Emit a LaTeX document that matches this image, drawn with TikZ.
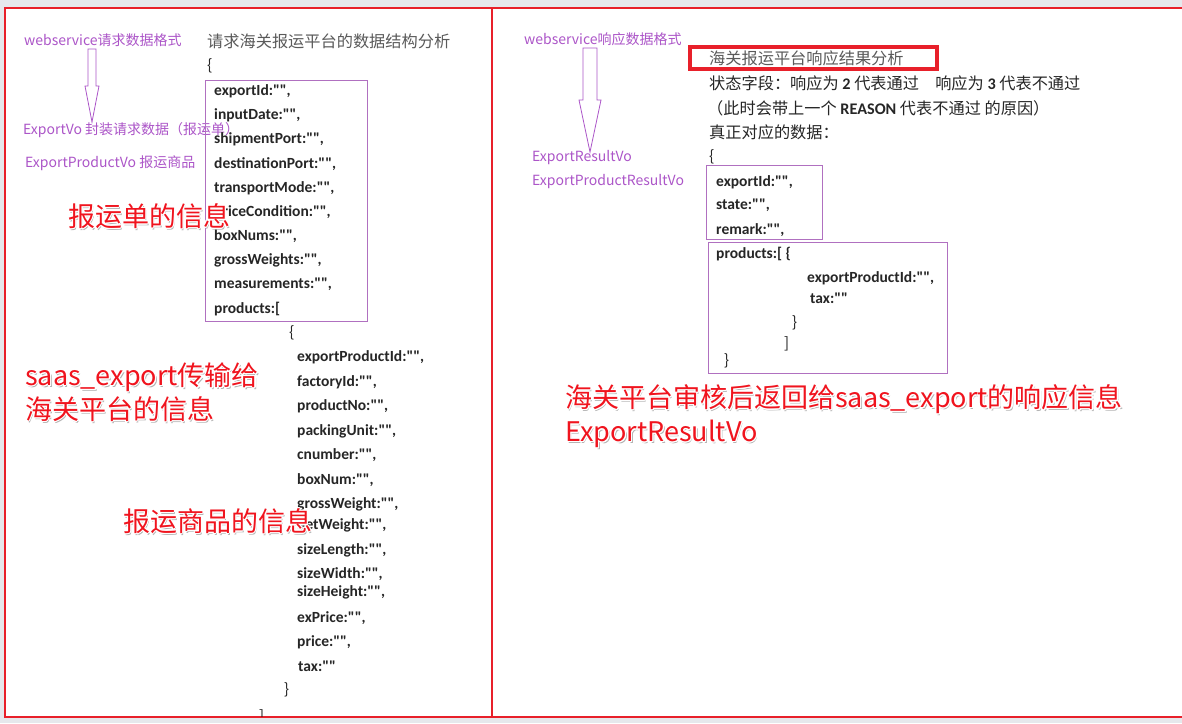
\documentclass[tikz,border=0pt]{standalone}
\usepackage{fontspec}
\setmainfont{Carlito}
\newfontfamily\codefont{Carlito}
\newfontfamily\cjk{Noto Sans CJK SC}
\usepackage{contour}
\contourlength{1.1pt}
\usetikzlibrary{positioning}
\definecolor{cBg}{HTML}{E6E8EC}
\definecolor{cFrame}{HTML}{E8202A}
\definecolor{cPurple}{HTML}{AC55C8}
\definecolor{cBoxP}{HTML}{B070C0}
\definecolor{cGreyT}{HTML}{5A5A5A}
\definecolor{cInk}{HTML}{262626}
\definecolor{cRed}{HTML}{F0141E}
\definecolor{cShade}{HTML}{B4B4B4}
\newcommand\glowtext[1]{\makebox[0pt][l]{\hspace{1.6pt}\raisebox{-1.6pt}{\textcolor{cShade}{#1}}}\contour{white}{#1}}

\begin{document}
\begin{tikzpicture}[x=1pt,y=-1pt,
  lbl/.style={anchor=west,inner sep=0pt,text=cPurple,font=\cjk\fontsize{14}{16}\selectfont},
  code/.style={anchor=west,inner sep=0pt,text=cInk,font=\codefont\bfseries\fontsize{15.5}{18}\selectfont},
  brace/.style={anchor=west,inner sep=0pt,text=cInk,font=\cjk\fontsize{15}{18}\selectfont},
  note/.style={anchor=west,inner sep=0pt,text=cGreyT,font=\cjk\fontsize{16.2}{19}\selectfont},
  call/.style={anchor=west,inner sep=0pt,text=cRed,font=\cjk\fontsize{27}{30}\selectfont},
  pbox/.style={draw=cBoxP,line width=0.8pt},
  blk/.style={draw=cPurple,line width=0.8pt,line join=miter}]

\useasboundingbox (0,0) rectangle (1182,723);
\fill[cBg] (0,0) rectangle (1182,723);
\fill[white] (5,8) rectangle (1182,717);
\draw[cFrame,line width=2pt] (1190,8) -- (5,8) -- (5,717) -- (1190,717);
\draw[cFrame,line width=2pt] (492,8) -- (492,717);

% request side
\node[lbl] (reqfmt) at (24,40) {webservice请求数据格式};
\draw[blk] (88,49) -- (96,49) -- (96,86) -- (99,86) -- (92,122) -- (85,86) -- (88,86) -- cycle;
\node[lbl] (vo) at (23,130) {ExportVo 封装请求数据（报运单）};
\node[lbl] (pvo) at (25,163) {ExportProductVo 报运商品};
\node[note] (reqtitle) at (207,41) {请求海关报运平台的数据结构分析};
\node[brace] (ob1) at (207,66) {\{};

\draw[pbox] (205,80) rectangle (367,321);
\foreach \f [count=\i from 0] in {exportId,inputDate,shipmentPort,destinationPort,
    transportMode,priceCondition,boxNums,grossWeights,measurements}
  \node[code] (ex\i) at (214,{91+24.2*\i}) {\f:"",};
\node[code] (exprod) at (214,309) {products:[};

\node[brace] (ob2) at (289,333) {\{};
\foreach \f/\y [count=\i] in {exportProductId/357,factoryId/382,productNo/406,packingUnit/431,
    cnumber/455,boxNum/480,grossWeight/504,netWeight/525,sizeLength/550,sizeWidth/574,
    sizeHeight/592,exPrice/618,price/642}
  \node[code] (pr\i) at (297,\y) {\f:"",};
\node[code] (prtax) at (298,666) {tax:""};
\node[brace] (cb2) at (284,690) {\}};
\begin{scope}
  \clip (5,8) rectangle (491,716);
  \node[brace,anchor=north west] (cb1) at (259,709) {]};
\end{scope}

\node[call] (c1) at (68,217) {\glowtext{报运单的信息}};
\node[call] (c2) at (25,378) {\glowtext{saas\_export传输给}};
\node[call] (c3) at (25,410) {\glowtext{海关平台的信息}};
\node[call] (c4) at (123,522) {\glowtext{报运商品的信息}};

% response side
\node[lbl] (respfmt) at (524,39) {webservice响应数据格式};
\draw[blk] (583,48) -- (597,48) -- (597,100) -- (601,100) -- (590,152) -- (579,100) -- (583,100) -- cycle;
\node[lbl] (rvo) at (532,158) {ExportResultVo};
\node[lbl] (rpvo) at (532,182) {ExportProductResultVo};

\draw[cFrame,line width=3.5pt] (690,47) rectangle (937,69);
\node[note] (resptitle) at (709,58) {海关报运平台响应结果分析};
\node[note,text=cInk] (state) at (709,83)
  {状态字段：响应为 {\codefont\bfseries 2} 代表通过　响应为 {\codefont\bfseries 3} 代表不通过};
\node[note,text=cInk] (reason) at (707,108)
  {（此时会带上一个 {\codefont\bfseries REASON} 代表不通过 的原因）};
\node[note,text=cInk] (real) at (709,132) {真正对应的数据：};
\node[brace] (ob3) at (709,157) {\{};

\draw[pbox] (706,165) rectangle (822,239);
\foreach \f/\y in {exportId/182,state/205,remark/230}
  \node[code] (r\f) at (716,\y) {\f:"",};
\draw[pbox] (708,242) rectangle (947,373);
\node[code] (rprod) at (716,254) {products:[ \{};
\node[code] (rpid) at (807,278) {exportProductId:"",};
\node[code] (rtax) at (810,298) {tax:""};
\node[brace] (rcb1) at (792,323) {\}};
\node[brace] (rcb2) at (784,344) {]};
\node[brace] (rcb3) at (724,361) {\}};

\node[call] (c5) at (565,400) {\glowtext{海关平台审核后返回给saas\_export的响应信息}};
\node[call] (c6) at (565,435) {\glowtext{ExportResultVo}};
\end{tikzpicture}
\end{document}
